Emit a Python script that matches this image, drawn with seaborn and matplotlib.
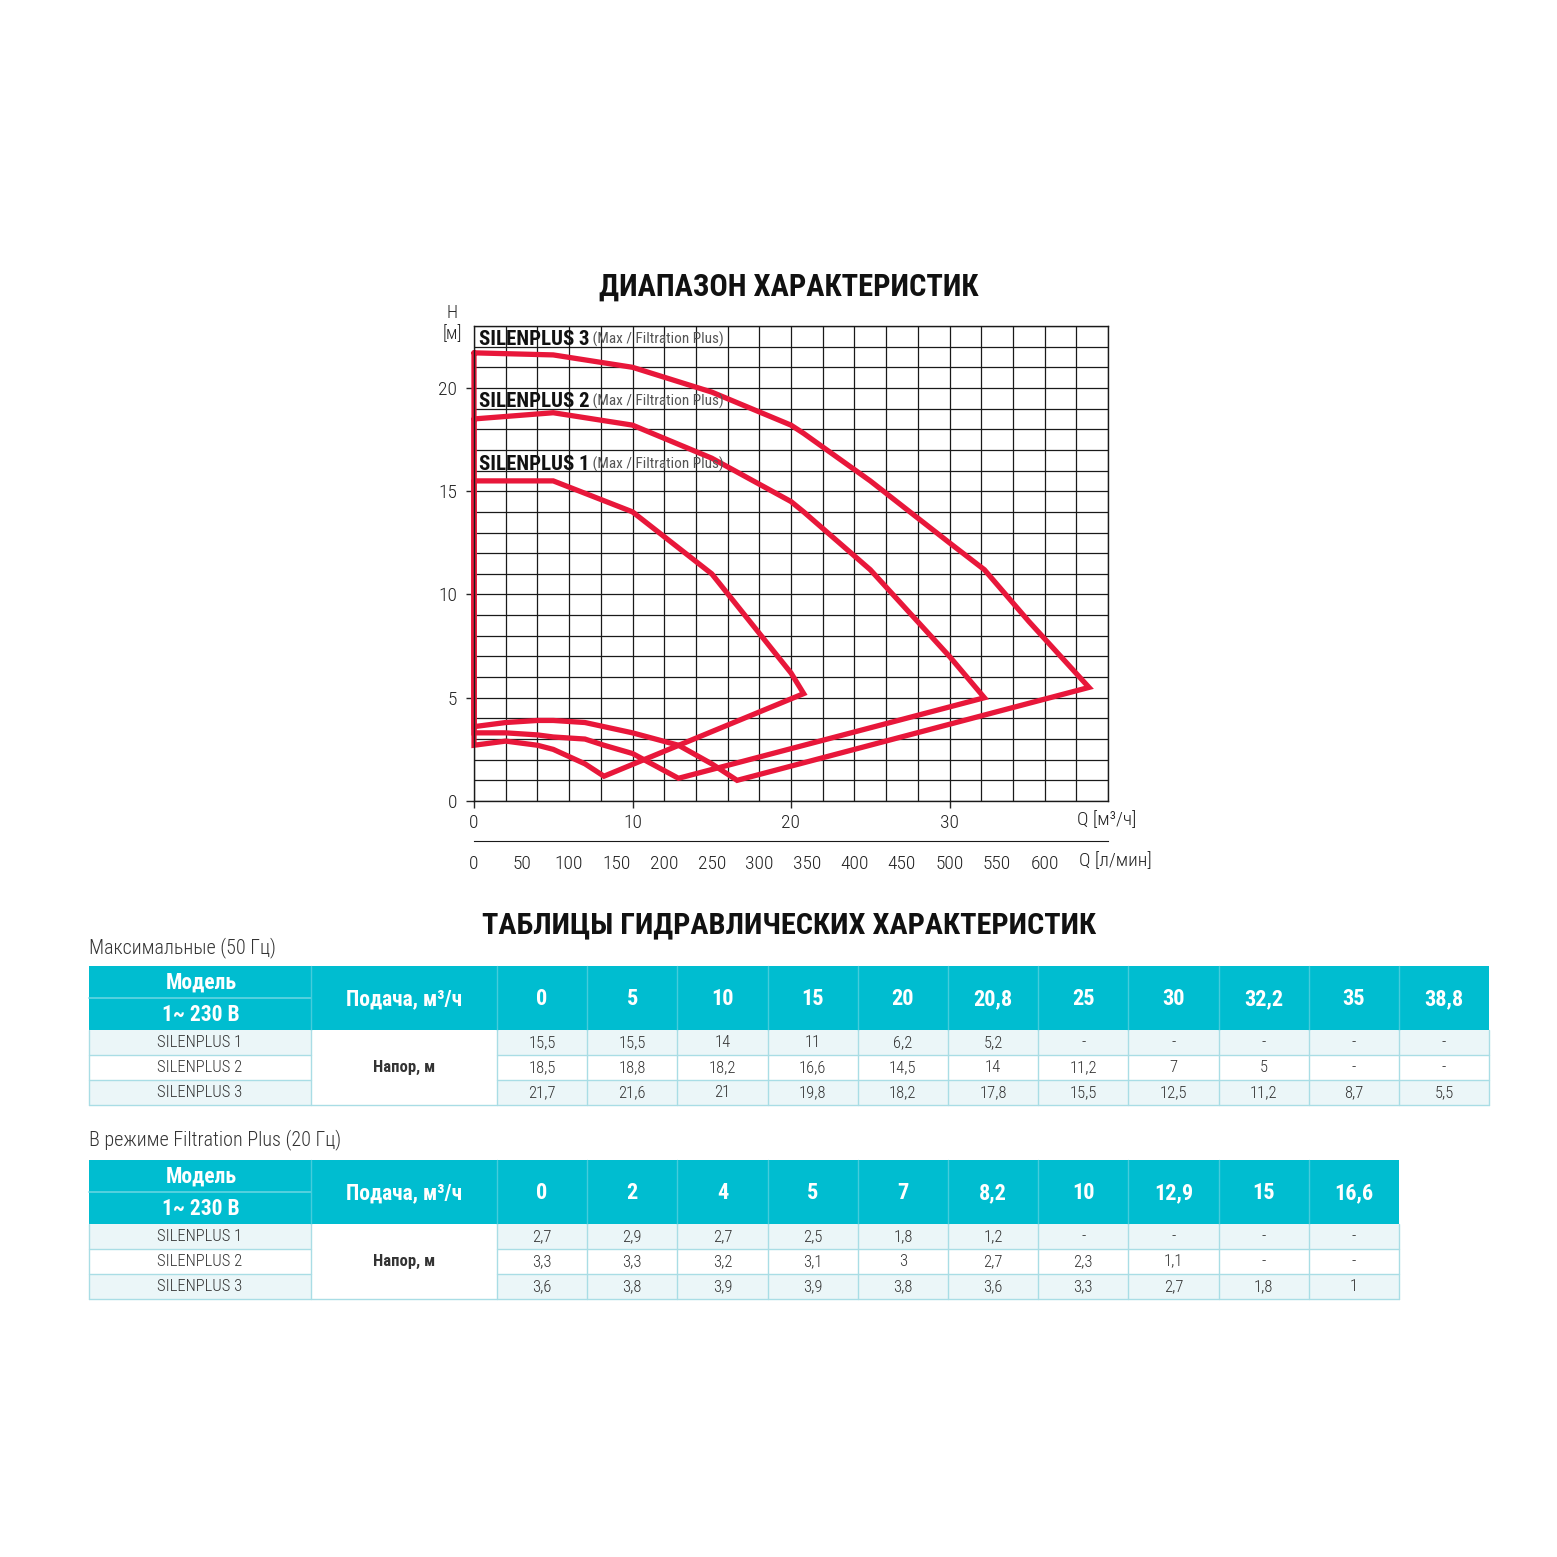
import numpy as np
import pandas as pd
import matplotlib
matplotlib.use("Agg")
import matplotlib.pyplot as plt
import seaborn as sns
from matplotlib.patches import Rectangle

# ── Data ──────────────────────────────────────────────────────────────────────

models = ["SILENPLUS 1", "SILENPLUS 2", "SILENPLUS 3"]

# Max (50 Hz)
q_max = [0, 5, 10, 15, 20, 20.8, 25, 30, 32.2, 35, 38.8]
h_max_1 = [15.5, 15.5, 14, 11, 6.2, 5.2, None, None, None, None, None]
h_max_2 = [18.5, 18.8, 18.2, 16.6, 14.5, 14, 11.2, 7, 5, None, None]
h_max_3 = [21.7, 21.6, 21, 19.8, 18.2, 17.8, 15.5, 12.5, 11.2, 8.7, 5.5]

# Filtration Plus (20 Hz)
q_fp = [0, 2, 4, 5, 7, 8.2, 10, 12.9, 15, 16.6]
h_fp_1 = [2.7, 2.9, 2.7, 2.5, 1.8, 1.2, None, None, None, None]
h_fp_2 = [3.3, 3.3, 3.2, 3.1, 3, 2.7, 2.3, 1.1, None, None]
h_fp_3 = [3.6, 3.8, 3.9, 3.9, 3.8, 3.6, 3.3, 2.7, 1.8, 1]

y_ticks = [0, 5, 10, 15, 20]
x_ticks = [0, 10, 20, 30]
lmin_ticks = [0, 50, 100, 150, 200, 250, 300, 350, 400, 450, 500, 550, 600]

RED = "#E8173A"
TEAL = "#00BDD0"
LIGHT = "#EBF6F8"
BORDER = "#A9DDE5"
TXT = "#333333"

W = H = 1557

sns.set_style("white")
NARROW = ["Roboto Condensed", "Liberation Sans Narrow", "DejaVu Sans"]
plt.rcParams["font.family"] = NARROW


def fmt(v):
    if v is None:
        return "-"
    return f"{v:g}".replace(".", ",")


def envelope(hmax, hfp):
    """Closed outline: max curve -> filtration curve (reversed) -> back up."""
    pts = [(q, h) for q, h in zip(q_max, hmax) if h is not None]
    pts += [(q, h) for q, h in zip(q_fp, hfp) if h is not None][::-1]
    pts.append(pts[0])
    return pts


rows = []
for m, hm, hf in zip(models, [h_max_1, h_max_2, h_max_3], [h_fp_1, h_fp_2, h_fp_3]):
    for i, (q, h) in enumerate(envelope(hm, hf)):
        rows.append({"model": m, "i": i, "Q": q, "H": h})
df = pd.DataFrame(rows)

fig = plt.figure(figsize=(W / 100, H / 100), dpi=100)
fig.patch.set_facecolor("white")


def fx(x):
    return x / W


def fy(y):
    return 1 - y / H


# ── Chart ─────────────────────────────────────────────────────────────────────

ax = fig.add_axes([fx(474), fy(801), 634 / W, 475 / H])
ax.set_xlim(0, 40)
ax.set_ylim(0, 23)
ax.set_xticks(x_ticks)
ax.set_yticks(y_ticks)
ax.set_xticks(np.arange(0, 41, 2), minor=True)
ax.set_yticks(np.arange(0, 24, 1), minor=True)
ax.grid(which="both", color="#1a1a1a", linewidth=0.9)
ax.set_axisbelow(True)
for s in ax.spines.values():
    s.set_color("#1a1a1a")
    s.set_linewidth(1.0)
ax.tick_params(which="minor", length=0)
ax.tick_params(axis="y", which="major", length=6, width=1, pad=6,
               labelsize=14, labelcolor="#222", direction="out", left=True)
ax.tick_params(axis="x", which="major", length=5, width=1, pad=4,
               labelsize=14, labelcolor="#222", direction="out", bottom=True)
for lab in ax.get_xticklabels() + ax.get_yticklabels():
    lab.set_fontweight("light")

sns.lineplot(data=df, x="Q", y="H", units="model", estimator=None, sort=False,
             color=RED, linewidth=3.8, ax=ax, legend=False)
for ln in ax.lines:
    ln.set_solid_joinstyle("miter")
    ln.set_clip_on(False)
ax.set_xlabel("")
ax.set_ylabel("")

for m, yv in zip(models[::-1], [22.35, 19.35, 16.3]):
    t = ax.text(0.3, yv, m, fontsize=15, fontweight="bold", color="#111",
                va="center", ha="left")
    ax.annotate(" (Max / Filtration Plus)", xy=(1, 0.12), xycoords=t,
                va="bottom", ha="left", fontsize=11, color="#555")

fig.text(fx(452), fy(313), "H", fontsize=13, ha="center", va="center", color="#222",
         fontweight="light")
fig.text(fx(452), fy(334), "[м]", fontsize=13, ha="center", va="center", color="#222",
         fontweight="light")
fig.text(fx(1077), fy(820), "Q [м³/ч]", fontsize=14, ha="left", va="center", color="#222",
         fontweight="light")

# second scale in l/min
ax2 = fig.add_axes([fx(474), fy(841), 634 / W, 0.0001])
ax2.set_xlim(0, 40 * 1000 / 60)
ax2.set_xticks(lmin_ticks)
ax2.set_yticks([])
for k in ["top", "left", "right"]:
    ax2.spines[k].set_visible(False)
ax2.spines["bottom"].set_color("#1a1a1a")
ax2.tick_params(axis="x", direction="in", length=7, width=1, pad=10,
                labelsize=14, labelcolor="#222")
for lab in ax2.get_xticklabels():
    lab.set_fontweight("light")
fig.text(fx(1079), fy(861), "Q [л/мин]", fontsize=14, ha="left", va="center", color="#222",
         fontweight="light")

fig.text(fx(789), fy(287), "ДИАПАЗОН ХАРАКТЕРИСТИК", fontsize=22, fontweight="bold",
         ha="center", va="center", color="#111")

# ── Tables ────────────────────────────────────────────────────────────────────

fig.text(fx(789), fy(925), "ТАБЛИЦЫ ГИДРАВЛИЧЕСКИХ ХАРАКТЕРИСТИК", fontsize=21.8,
         fontweight="bold", ha="center", va="center", color="#111")

tax = fig.add_axes([0, 0, 1, 1])
tax.set_xlim(0, W)
tax.set_ylim(H, 0)
tax.axis("off")


def draw_table(top, left_vals, q_vals, h_rows, colw):
    edges = [89, 311, 497] + [497 + colw * (k + 1) for k in range(len(q_vals))]
    hh, rh = 64, 25
    right = edges[-1]
    # header
    tax.add_patch(Rectangle((89, top), right - 89, hh, color=TEAL, lw=0))
    tax.plot([89, 311], [top + hh / 2, top + hh / 2], color="#63D4E1", lw=1.2)
    for e in edges[1:-1]:
        tax.plot([e, e], [top, top + hh], color="#45CCDB", lw=1)
    tax.text(201, top + 17, "Модель", color="white", fontsize=15.5, fontweight="bold",
             ha="center", va="center")
    tax.text(201, top + 49, "1~ 230 В", color="white", fontsize=15.5, fontweight="bold",
             ha="center", va="center")
    tax.text(404, top + hh / 2 + 1, "Подача, м³/ч", color="white", fontsize=15.5,
             fontweight="bold", ha="center", va="center")
    for k, q in enumerate(q_vals):
        tax.text((edges[k + 2] + edges[k + 3]) / 2, top + hh / 2 + 1, fmt(q), color="white",
                 fontsize=16, fontweight="bold", ha="center", va="center")
    # body
    y0 = top + hh
    for r in range(3):
        bg = LIGHT if r != 1 else "white"
        yy = y0 + r * rh
        tax.add_patch(Rectangle((89, yy), 311 - 89, rh, color=bg, lw=0))
        tax.add_patch(Rectangle((edges[2], yy), right - edges[2], rh, color=bg, lw=0))
        tax.text(200, yy + rh / 2, left_vals[r], fontsize=12, color=TXT,
                 ha="center", va="center", fontweight="light")
        for k, v in enumerate(h_rows[r]):
            tax.text((edges[k + 2] + edges[k + 3]) / 2, yy + rh / 2, fmt(v), fontsize=12,
                     color=TXT, ha="center", va="center", fontweight="light")
    tax.text(404, y0 + 1.5 * rh, "Напор, м", fontsize=12, fontweight="bold", color=TXT,
             ha="center", va="center")
    # borders
    bottom = y0 + 3 * rh
    for r in range(1, 3):
        yy = y0 + r * rh
        tax.plot([89, 311], [yy, yy], color=BORDER, lw=1)
        tax.plot([edges[2], right], [yy, yy], color=BORDER, lw=1)
    tax.plot([89, right], [bottom, bottom], color=BORDER, lw=1)
    for e in edges:
        tax.plot([e, e], [y0, bottom], color=BORDER, lw=1)


fig.text(fx(89), fy(948), "Максимальные (50 Гц)", fontsize=14.5, ha="left", va="center",
         color="#333", fontweight="light")
draw_table(966, models, q_max, [h_max_1, h_max_2, h_max_3], 90.2)

fig.text(fx(89), fy(1140), "В режиме Filtration Plus (20 Гц)", fontsize=14.5, ha="left",
         va="center", color="#333", fontweight="light")
draw_table(1160, models, q_fp, [h_fp_1, h_fp_2, h_fp_3], 90.2)

fig.savefig("out.png", dpi=100, facecolor="white")
